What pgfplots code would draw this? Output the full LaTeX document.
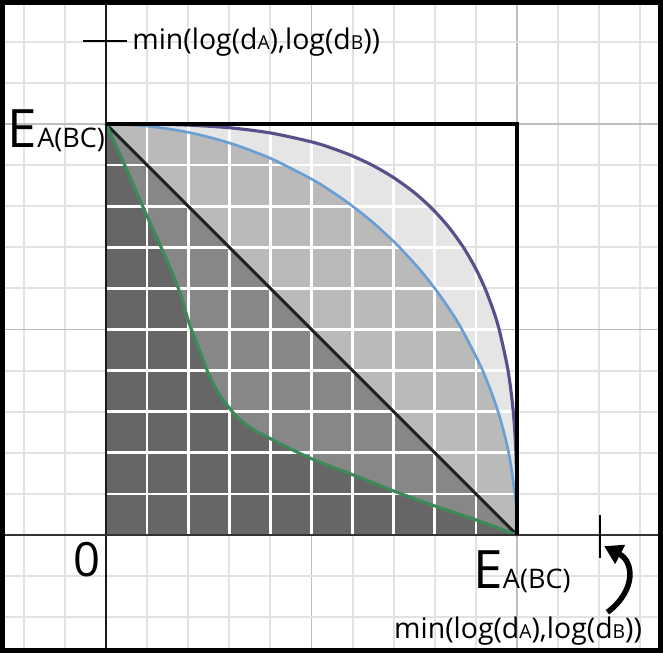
\documentclass[border=0pt]{standalone}
\usepackage{pgfplots}
\pgfplotsset{compat=1.18}
\usepackage{fontspec}
\setmainfont{Open Sans}
\usetikzlibrary{arrows.meta}
\definecolor{purplec}{HTML}{5B4E8A}
\definecolor{bluec}{HTML}{6A9FD4}
\definecolor{greenc}{HTML}{3D8A57}
\definecolor{diagc}{HTML}{1C231C}
\definecolor{minorg}{HTML}{E2E2E2}
\definecolor{majorg}{HTML}{BEBEBE}
\newcommand{\lbl}{{\fontsize{11.8}{14}\selectfont min(log(d{\fontsize{8}{9}\selectfont A}),log(d{\fontsize{8}{9}\selectfont B}))}}
\newcommand{\Elbl}{{\fontsize{22}{24}\selectfont E}{\fontsize{11.2}{12}\selectfont A(BC)}}
\begin{document}
\begin{tikzpicture}
\begin{axis}[
  scale only axis, x=0.6cm, y=0.6cm,
  xmin=-2.518, xmax=13.491, ymin=-2.810, ymax=12.956,
  axis line style={draw=none},
  xtick={-5,0,5,10,15}, ytick={-5,0,5,10,15},
  minor xtick={-2,...,13}, minor ytick={-2,...,12},
  xticklabels={}, yticklabels={},
  major tick length=0pt, minor tick length=0pt,
  grid=both,
  minor grid style={minorg, line width=0.8pt},
  major grid style={majorg, line width=0.8pt},
  clip=false,
]
\coordinate (ll) at (rel axis cs:0,0);
\coordinate (ur) at (rel axis cs:1,1);
% lightest region: under purple curve
\addplot[fill=black!10, draw=none, smooth, tension=0.5] coordinates {
(0,10)(1,9.997)(2,9.973)(3,9.909)(4,9.782)(5,9.565)(5.5,9.411)(6,9.221)(6.5,8.986)(7,8.694)(7.5,8.331)(7.937,7.937)(8.331,7.5)(8.694,7)(8.986,6.5)(9.221,6)(9.411,5.5)(9.565,5)(9.782,4)(9.909,3)(9.973,2)(9.997,1)(10,0)} \closedcycle;
% light region: under blue circle
\addplot[fill=black!27, draw=none, smooth, tension=0.5] coordinates {
(0,10)(1,9.950)(2,9.798)(3,9.539)(4,9.165)(5,8.660)(5.5,8.352)(6,8.0)(6.5,7.599)(7,7.141)(7.071,7.071)(7.141,7)(7.599,6.5)(8,6)(8.352,5.5)(8.660,5)(9.165,4)(9.539,3)(9.798,2)(9.950,1)(10,0)} \closedcycle;
% medium region: under diagonal
\addplot[fill=black!47, draw=none] coordinates {(0,10)(10,0)} \closedcycle;
% dark region: under green curve
\addplot[fill=black!60, draw=none, smooth, tension=0.8] coordinates {
(0,10)(0.42,9.08)(0.95,7.87)(1.35,6.98)(1.76,6.0)(2.04,5.1)(2.29,4.45)(2.6,3.7)(2.98,3.12)(3.42,2.68)(3.99,2.35)(5.04,1.84)(6.02,1.46)(7.03,1.06)(8.05,0.69)(9.02,0.36)(10,0)} \closedcycle;
% white grid lines inside the filled area
\pgfplotsset{wg/.style={white, line width=1.15pt}}
\addplot[wg] coordinates {(1,0)(1,9.997)};
\addplot[wg] coordinates {(2,0)(2,9.973)};
\addplot[wg] coordinates {(3,0)(3,9.909)};
\addplot[wg] coordinates {(4,0)(4,9.782)};
\addplot[wg] coordinates {(5,0)(5,9.565)};
\addplot[wg] coordinates {(6,0)(6,9.221)};
\addplot[wg] coordinates {(7,0)(7,8.694)};
\addplot[wg] coordinates {(8,0)(8,7.873)};
\addplot[wg] coordinates {(9,0)(9,6.471)};
\addplot[wg] coordinates {(0,1)(9.997,1)};
\addplot[wg] coordinates {(0,2)(9.973,2)};
\addplot[wg] coordinates {(0,3)(9.909,3)};
\addplot[wg] coordinates {(0,4)(9.782,4)};
\addplot[wg] coordinates {(0,5)(9.565,5)};
\addplot[wg] coordinates {(0,6)(9.221,6)};
\addplot[wg] coordinates {(0,7)(8.694,7)};
\addplot[wg] coordinates {(0,8)(7.873,8)};
\addplot[wg] coordinates {(0,9)(6.471,9)};
% curves
\addplot[purplec, line width=1.3pt, smooth, tension=0.5] coordinates {
(0,10)(1,9.997)(2,9.973)(3,9.909)(4,9.782)(5,9.565)(5.5,9.411)(6,9.221)(6.5,8.986)(7,8.694)(7.5,8.331)(7.937,7.937)(8.331,7.5)(8.694,7)(8.986,6.5)(9.221,6)(9.411,5.5)(9.565,5)(9.782,4)(9.909,3)(9.973,2)(9.997,1)(10,0)};
\addplot[bluec, line width=1.1pt, smooth, tension=0.5] coordinates {
(0,10)(1,9.950)(2,9.798)(3,9.539)(4,9.165)(5,8.660)(5.5,8.352)(6,8.0)(6.5,7.599)(7,7.141)(7.071,7.071)(7.141,7)(7.599,6.5)(8,6)(8.352,5.5)(8.660,5)(9.165,4)(9.539,3)(9.798,2)(9.950,1)(9.976,0.7)};
\addplot[diagc, line width=1.3pt] coordinates {(0,10)(10,0)};
\addplot[greenc, line width=1.3pt, smooth, tension=0.8] coordinates {
(0,10)(0.42,9.08)(0.95,7.87)(1.35,6.98)(1.76,6.0)(2.04,5.1)(2.29,4.45)(2.6,3.7)(2.98,3.12)(3.42,2.68)(3.99,2.35)(5.04,1.84)(6.02,1.46)(7.03,1.06)(8.05,0.69)(9.02,0.36)(10,0)};
% axes
\addplot[black!90, line width=0.85pt] coordinates {(0,-2.81)(0,12.956)};
\addplot[black!80, line width=0.85pt] coordinates {(-2.518,0)(13.491,0)};
% square
\addplot[black, line width=1.5pt] coordinates {(0,10)(10,10)(10,0)};
% tick marks
\addplot[black, line width=1.2pt] coordinates {(-0.56,12.02)(0.51,12.02)};
\addplot[black, line width=1.2pt] coordinates {(12.02,0.49)(12.02,-0.56)};
% arrow
\draw[black, line width=2.3pt, -{Triangle[length=7.5pt,width=8.5pt]}] (axis cs:12.2,-1.88) .. controls (axis cs:12.9,-1.35) and (axis cs:12.85,-0.65) .. (axis cs:12.12,-0.27);
% labels
\node[anchor=base west, inner sep=0] at (axis cs:0.63,11.82) {\lbl};
\node[anchor=base west, inner sep=0] at (axis cs:7.0,-2.52) {\lbl};
\node[anchor=base west, inner sep=0] at (axis cs:-2.40,9.44) {\Elbl};
\node[anchor=base west, inner sep=0] at (axis cs:8.93,-1.29) {\Elbl};
\node[anchor=base east, inner sep=0] at (axis cs:-0.12,-1.02) {\fontsize{19.6}{21}\selectfont 0};
\end{axis}
\draw[black, line width=2.08pt] (ll) rectangle (ur);
\pgfresetboundingbox
\path[use as bounding box] ([shift={(-1.04pt,-1.04pt)}]ll) rectangle ([shift={(1.04pt,1.04pt)}]ur);
\end{tikzpicture}
\end{document}
